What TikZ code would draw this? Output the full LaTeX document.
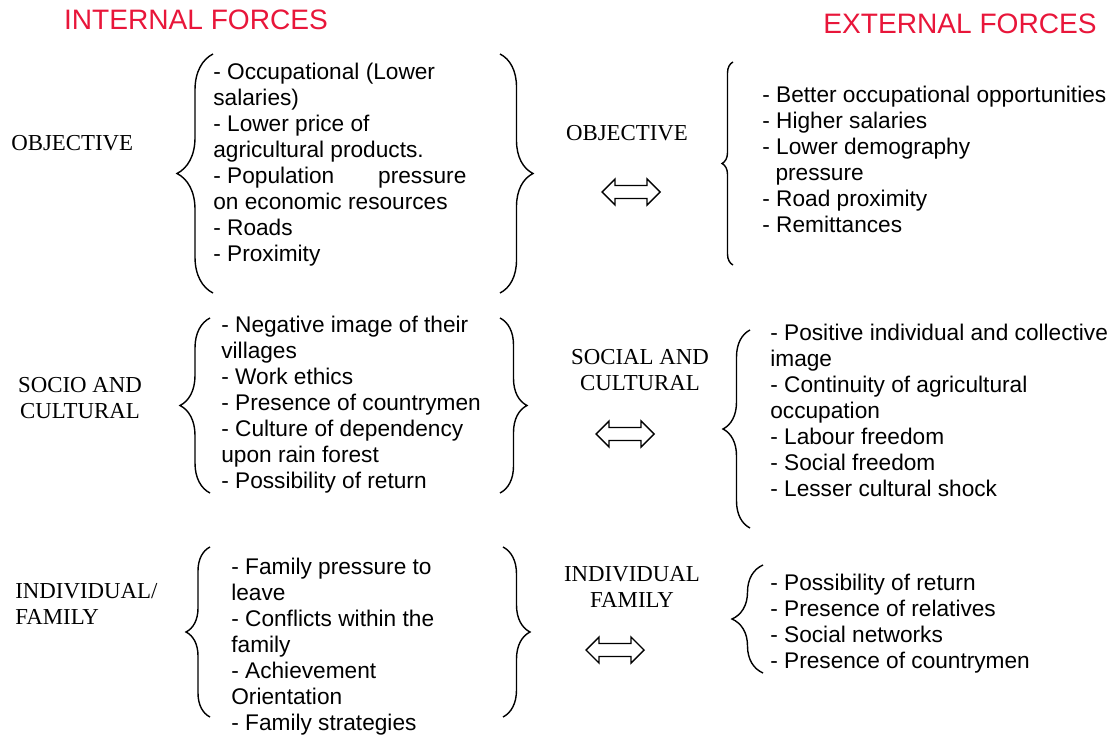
\documentclass[tikz,border=0pt]{standalone}
\usepackage{fontspec}
\setmainfont{Liberation Serif}
\setsansfont{Liberation Sans}
\usepackage{tikz}
\usetikzlibrary{decorations.pathreplacing}
\definecolor{forcered}{RGB}{232,22,58}

\begin{document}
\begin{tikzpicture}[x=0.02cm, y=-0.02cm,
  heading/.style={text=forcered, font=\sffamily\fontsize{16}{19}\selectfont},
  sideword/.style={align=center, inner sep=0pt, font=\rmfamily\fontsize{13}{14.74}\selectfont},
  itemlist/.style={anchor=north west, align=left, inner sep=0pt,
    font=\sffamily\fontsize{12.9}{14.74}\selectfont},
  curly/.style={decorate, decoration={brace, amplitude=#1}, line width=0.8pt},
  twoway/.pic={
    \draw[line width=0.8pt] (-29,0) -- (-16,-13) -- (-16,-6.5) -- (16,-6.5) -- (16,-13)
      -- (29,0) -- (16,13) -- (16,6.5) -- (-16,6.5) -- (-16,13) -- cycle;}]
  \useasboundingbox (0,0) rectangle (1111,736);

  % --- headings ---
  \node[heading] (intf) at (196,20) {INTERNAL FORCES};
  \node[heading] (extf) at (960,24) {EXTERNAL FORCES};

  % --- internal forces ---
  \node[sideword, anchor=west] (objL) at (11,143) {OBJECTIVE};
  \draw[curly=0.72cm] (213,293) -- (213,54);
  \node[itemlist] (lobj) at (213,63) {- Occupational (Lower\\salaries)\\- Lower price of\\
    agricultural products.\\- Population\hspace{25pt}pressure\\on economic resources\\
    - Roads\\- Proximity};
  \draw[curly=0.66cm] (500,54) -- (500,293);

  \node[sideword] (socL) at (80,398) {SOCIO AND\\CULTURAL};
  \draw[curly=0.6cm] (210,493) -- (210,318);
  \node[itemlist] (lsoc) at (221,316) {- Negative image of their\\villages\\- Work ethics\\
    - Presence of countrymen\\- Culture of dependency\\upon rain forest\\
    - Possibility of return};
  \draw[curly=0.54cm] (500,318) -- (500,493);

  \node[sideword, anchor=west, align=left] (famL) at (15,604) {INDIVIDUAL/\\FAMILY};
  \draw[curly=0.48cm] (210,717) -- (210,547);
  \node[itemlist] (lfam) at (231,558) {- Family pressure to\\leave\\- Conflicts within the\\
    family\\- Achievement\\Orientation\\- Family strategies};
  \draw[curly=0.54cm] (503,547) -- (503,717);

  % --- middle column ---
  \node[sideword] (objM) at (627,133) {OBJECTIVE};
  \pic (swapObj) at (631,192) {twoway};
  \node[sideword] (socM) at (640,370) {SOCIAL AND\\CULTURAL};
  \pic (swapSoc) at (625,434) {twoway};
  \node[sideword] (famM) at (632,587) {INDIVIDUAL\\FAMILY};
  \pic (swapFam) at (615,650) {twoway};

  % --- external forces ---
  \draw[curly=0.22cm] (733,265) -- (733,62);
  \node[itemlist] (robj) at (762,86) {- Better occupational opportunities\\
    - Higher salaries\\- Lower demography\\\hspace*{7.5pt}pressure\\
    - Road proximity\\- Remittances};
  \draw[curly=0.54cm] (750,528) -- (750,330);
  \node[itemlist] (rsoc) at (770,324) {- Positive individual and collective\\image\\
    - Continuity of agricultural\\occupation\\- Labour freedom\\- Social freedom\\
    - Lesser cultural shock};
  \draw[curly=0.62cm] (763,673) -- (763,565);
  \node[itemlist] (rfam) at (770,574) {- Possibility of return\\- Presence of relatives\\
    - Social networks\\- Presence of countrymen};
\end{tikzpicture}
\end{document}
